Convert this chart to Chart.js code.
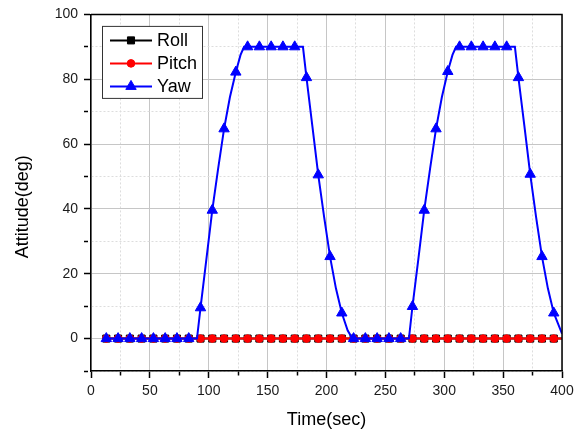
<!DOCTYPE html>
<html>
<head>
<meta charset="utf-8">
<title>Attitude</title>
<script src="https://cdn.jsdelivr.net/npm/chart.js@4.4.1/dist/chart.umd.min.js"></script>
<style>
  html, body { margin: 0; padding: 0; background: #fff; }
  #wrap { width: 586px; height: 433px; }
</style>
</head>
<body>
<div id="wrap"><canvas id="attitude"></canvas></div>
<script>
// Sample times that carry a marker symbol (sec)
const markTimes = [13, 23, 33, 43, 53, 63, 73, 83, 93, 103, 113, 123, 133, 143, 153, 163, 173, 183, 193, 203,
  213, 223, 233, 243, 253, 263, 273, 283, 293, 303, 313, 323, 333, 343, 353, 363, 373, 383, 393];

// Roll / pitch log (sec, deg)
const rpTime = [10, 13, 23, 33, 43, 53, 63, 73, 83, 93, 103, 113, 123, 133, 143, 153, 163, 173, 183, 193, 203,
  213, 223, 233, 243, 253, 263, 273, 283, 293, 303, 313, 323, 333, 343, 353, 363, 373, 383, 393, 400];
const rollDeg = [0, 0, 0, 0, 0, 0, 0, 0, 0, 0, 0, 0, 0, 0, 0, 0, 0, 0, 0, 0, 0,
  0, 0, 0, 0, 0, 0, 0, 0, 0, 0, 0, 0, 0, 0, 0, 0, 0, 0, 0, 0];
const pitchDeg = [0, 0, 0, 0, 0, 0, 0, 0, 0, 0, 0, 0, 0, 0, 0, 0, 0, 0, 0, 0, 0,
  0, 0, 0, 0, 0, 0, 0, 0, 0, 0, 0, 0, 0, 0, 0, 0, 0, 0, 0, 0];

// Yaw log (sec, deg)
const yawTime = [
  10, 13, 23, 33, 43, 53, 63, 73, 83, 90,
  93, 98, 103, 108, 113, 118, 123, 127, 130,
  133, 143, 153, 163, 173, 180,
  183, 188, 193, 198, 203, 208, 213, 218, 222,
  223, 233, 243, 253, 263, 270,
  273, 278, 283, 288, 293, 298, 303, 307, 310,
  313, 323, 333, 343, 353, 360,
  363, 368, 373, 378, 383, 388, 393, 400];
const yawDeg = [
  0, 0, 0, 0, 0, 0, 0, 0, 0, 0,
  9.5, 24.5, 39.6, 52.5, 64.7, 74.5, 82.2, 87.5, 90,
  90, 90, 90, 90, 90, 90,
  80.5, 65.5, 50.5, 37.5, 25.3, 15.5, 7.9, 2.5, 0,
  0, 0, 0, 0, 0, 0,
  9.9, 24.5, 39.6, 52.5, 64.7, 74.5, 82.4, 87.5, 90,
  90, 90, 90, 90, 90, 90,
  80.5, 65.8, 50.7, 37.5, 25.3, 15.5, 7.9, 1.5];

const FONT = "'Liberation Sans', Arial, sans-serif";

const toPoints = (t, v) => t.map((x, i) => ({ x, y: v[i] }));
const markerOnly = r => c => (c.raw && markTimes.includes(c.raw.x) ? r : 0);

const series = [
  { label: 'Roll', color: '#000000', style: 'rect', radius: 5, order: 3, data: toPoints(rpTime, rollDeg) },
  { label: 'Pitch', color: '#ff0000', style: 'circle', radius: 3.8, order: 2, data: toPoints(rpTime, pitchDeg) },
  { label: 'Yaw', color: '#0000ff', style: 'triangle', radius: 6, order: 1, data: toPoints(yawTime, yawDeg) },
];

// Top/right frame, boxed legend and the rotated y title
const decorations = {
  id: 'decorations',
  afterDatasetsDraw(chart) {
    const { ctx, chartArea: a } = chart;
    ctx.save();
    ctx.strokeStyle = '#000';
    ctx.lineWidth = 1.5;
    ctx.beginPath();
    ctx.moveTo(a.left, a.top);
    ctx.lineTo(a.right, a.top);
    ctx.lineTo(a.right, a.bottom);
    ctx.stroke();

    // legend
    const bx = a.left + 11.5, by = a.top + 12, bw = 100, bh = 72;
    ctx.fillStyle = '#fff';
    ctx.fillRect(bx, by, bw, bh);
    ctx.strokeStyle = '#333';
    ctx.lineWidth = 1;
    ctx.strokeRect(bx, by, bw, bh);
    ctx.font = '18px ' + FONT;
    ctx.textBaseline = 'middle';
    ctx.textAlign = 'left';
    series.forEach((s, i) => {
      const y = by + 14 + i * 23;
      ctx.strokeStyle = s.color;
      ctx.fillStyle = s.color;
      ctx.lineWidth = 2;
      ctx.beginPath();
      ctx.moveTo(bx + 7.5, y);
      ctx.lineTo(bx + 49.5, y);
      ctx.stroke();
      ctx.lineWidth = 1;
      Chart.helpers.drawPoint(ctx, { pointStyle: s.style, radius: s.radius, rotation: 0, borderWidth: 1 }, bx + 28.5, y);
      ctx.fillStyle = '#000';
      ctx.fillText(s.label, bx + 54.5, y + 1);
    });

    ctx.translate(23, (a.top + a.bottom) / 2 + 14);
    ctx.rotate(-Math.PI / 2);
    ctx.textAlign = 'center';
    ctx.fillStyle = '#000';
    ctx.fillText('Attitude(deg)', 0, 0);
    ctx.restore();
  }
};

const isMajor = (c, step) => c.tick && c.tick.value % step === 0;

new Chart(document.getElementById('attitude'), {
  type: 'line',
  data: {
    datasets: series.map(s => ({
      label: s.label,
      data: s.data,
      order: s.order,
      borderColor: s.color,
      backgroundColor: s.color,
      borderWidth: 2,
      pointStyle: s.style,
      pointRadius: markerOnly(s.radius),
      pointBorderWidth: 1,
      pointBorderColor: s.color,
      pointBackgroundColor: s.color,
      tension: 0,
    })),
  },
  options: {
    responsive: true,
    maintainAspectRatio: false,
    animation: false,
    layout: { padding: { top: 13, right: 24, left: 0, bottom: 0 } },
    plugins: {
      legend: { display: false },
      tooltip: { enabled: false },
    },
    scales: {
      x: {
        type: 'linear',
        min: 0,
        max: 400,
        afterFit: s => { s.height = 62; },
        ticks: {
          stepSize: 25,
          autoSkip: false,
          maxRotation: 0,
          padding: 5,
          color: '#1a1a1a',
          font: { family: FONT, size: 14 },
          callback: v => (v % 50 === 0 ? v : ''),
        },
        grid: {
          color: c => (isMajor(c, 50) ? '#c6c6c6' : '#dddddd'),
          tickColor: '#000',
          tickLength: 7,
          tickWidth: 1.5,
          tickBorderDash: c => (isMajor(c, 50) ? [] : [4, 30]),
        },
        border: { color: '#000', width: 1.5, dash: c => (c.tick && !isMajor(c, 50) ? [2, 2] : []) },
        title: {
          display: true,
          text: 'Time(sec)',
          color: '#000',
          font: { family: FONT, size: 18 },
          padding: { top: 0, bottom: 2 },
        },
      },
      y: {
        min: -10,
        max: 100,
        afterFit: s => { s.width = 91; },
        ticks: {
          stepSize: 10,
          autoSkip: false,
          padding: 6,
          color: '#1a1a1a',
          font: { family: FONT, size: 14 },
          callback: v => (v % 20 === 0 ? v : ''),
        },
        grid: {
          color: c => (isMajor(c, 20) ? '#c6c6c6' : '#dddddd'),
          tickColor: '#000',
          tickLength: 7,
          tickWidth: 1.5,
          tickBorderDash: c => (isMajor(c, 20) ? [] : [4, 30]),
        },
        border: { color: '#000', width: 1.5, dash: c => (c.tick && !isMajor(c, 20) ? [2, 2] : []) },
      },
    },
  },
  plugins: [decorations],
});
</script>
</body>
</html>
